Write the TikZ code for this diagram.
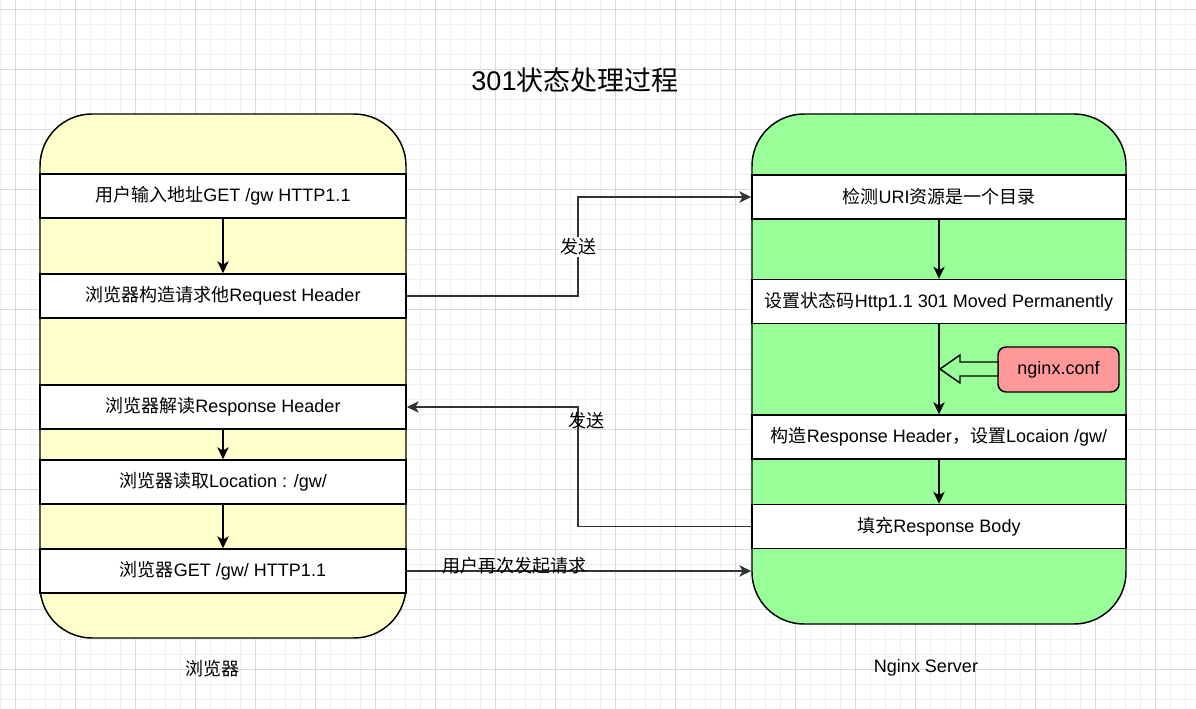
\documentclass[tikz,border=0pt]{standalone}
\usepackage{fontspec}
\setmainfont{Liberation Sans}
\newfontfamily\zhfont{Noto Sans CJK SC}
\newcommand{\zh}[1]{{\zhfont #1}}
\usetikzlibrary{arrows.meta}
\definecolor{gridminor}{HTML}{EFEFEF}
\definecolor{gridmajor}{HTML}{D9D9D9}
\definecolor{browserfill}{HTML}{FFFFCC}
\definecolor{serverfill}{HTML}{99FF99}
\definecolor{conffill}{HTML}{FF9999}
\definecolor{linkgray}{HTML}{333333}
\tikzset{
    txt/.style={font=\fontsize{13.5}{16}\selectfont},
    box/.style={draw=black, line width=1.1pt, rounded corners=39pt, inner sep=0pt},
    row/.style={txt, draw=black, line width=1.1pt, fill=white, minimum height=33pt, inner sep=0pt},
    leftrow/.style={row, minimum width=274.5pt},
    rightrow/.style={row, minimum width=280.5pt},
    flow/.style={-{Stealth[length=9pt,width=8.5pt,inset=2.5pt]}, line width=1.1pt, draw=black},
    link/.style={flow, draw=linkgray},
}
\begin{document}
\begin{tikzpicture}[x=0.75pt, y=-0.75pt]
    \useasboundingbox (0,0) rectangle (1196,709);
    \fill[white] (0,0) rectangle (1196,709);
    \foreach \x in {0,15,...,1195}
        \draw[gridminor, line width=0.6pt] (\x,0) -- (\x,709);
    \foreach \y in {9,24,...,708}
        \draw[gridminor, line width=0.6pt] (0,\y) -- (1196,\y);
    \foreach \x in {15,75,...,1195}
        \draw[gridmajor, line width=0.6pt] (\x,0) -- (\x,709);
    \foreach \y in {9,69,...,708}
        \draw[gridmajor, line width=0.6pt] (0,\y) -- (1196,\y);

    \node[font=\fontsize{20.25}{24}\selectfont] (title) at (575,80) {301\zh{状态处理过程}};

    \node[box, fill=browserfill, minimum width=274.5pt, minimum height=393pt] (browser) at (223,376) {};
    \node[box, fill=serverfill, minimum width=280.5pt, minimum height=382.5pt] (server) at (939,369) {};
    \node[txt] (browserlbl) at (212,669) {\zh{浏览器}};
    \node[txt] (serverlbl) at (926,668) {Nginx Server};

    \node[leftrow] (r1) at (223,196) {\zh{用户输入地址}GET /gw HTTP1.1};
    \node[leftrow] (r2) at (223,296) {\zh{浏览器构造请求他}Request Header};
    \node[leftrow] (r3) at (223,407) {\zh{浏览器解读}Response Header};
    \node[leftrow] (r4) at (223,482) {\zh{浏览器读取}Location : /gw/};
    \node[leftrow] (r5) at (223,571) {\zh{浏览器}GET /gw/ HTTP1.1};

    \node[rightrow] (s1) at (939,197) {\zh{检测}URI\zh{资源是一个目录}};
    \node[rightrow] (s2) at (939,301.5) {\zh{设置状态码}Http1.1 301 Moved Permanently};
    \node[rightrow] (s3) at (939,437) {\zh{构造}Response Header\zh{，设置}Locaion /gw/};
    \node[rightrow] (s4) at (939,526.5) {\zh{填充}Response Body};

    \node[txt, draw=black, line width=1.1pt, fill=conffill, rounded corners=6pt,
        minimum width=90.75pt, minimum height=33.75pt, inner sep=0pt] (conf) at (1058.5,369.5) {nginx.conf};
    \draw[fill=serverfill, line width=1.1pt] (940,369) -- (960,355) -- (960,362) -- (998,362)
        -- (998,376) -- (960,376) -- (960,383) -- cycle;

    \draw[flow] (r1) -- (r2);
    \draw[flow] (r3) -- (r4);
    \draw[flow] (r4) -- (r5);
    \draw[flow] (s1) -- (s2);
    \draw[flow] (s2) -- (s3);
    \draw[flow] (s3) -- (s4);

    \coordinate (bus) at (578,0);
    \draw[link] (r2.east) -- (r2.east -| bus) -- (bus |- s1.west) -- (s1.west);
    \node[txt, fill=white, inner sep=1pt] (send1) at (578,247) {\zh{发送}};
    \draw[link] (s4.west) -- (s4.west -| bus) -- (bus |- r3.east) -- (r3.east);
    \node[txt, inner sep=1pt] (send2) at (586,421) {\zh{发送}};
    \draw[link] (r5.east) -- (r5.east -| server.west);
    \node[txt, inner sep=1pt] (again) at (514,566) {\zh{用户再次发起请求}};
\end{tikzpicture}
\end{document}
